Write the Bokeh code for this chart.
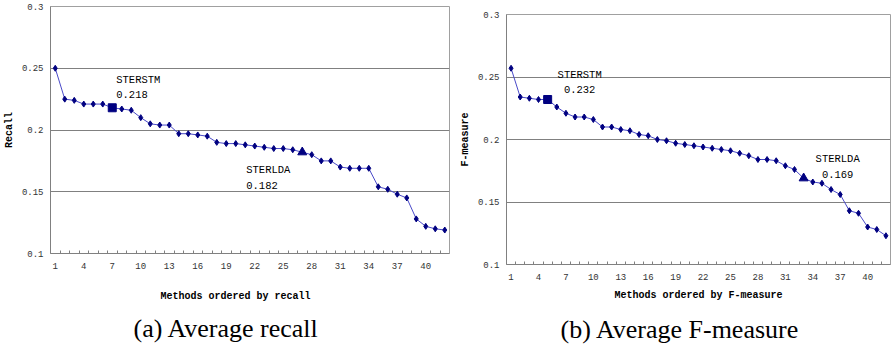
from bokeh.plotting import figure
from bokeh.layouts import row, column
from bokeh.models import Range1d, FixedTicker, Title
from bokeh.embed import file_html
from bokeh.resources import INLINE
from bokeh.core.properties import value

# ---------------- data ----------------
methods = list(range(1, 43))
recall = [0.250, 0.225, 0.224, 0.221, 0.221, 0.221, 0.218, 0.217, 0.216, 0.210,
          0.205, 0.204, 0.204, 0.197, 0.197, 0.196, 0.195, 0.190, 0.189, 0.189,
          0.188, 0.187, 0.186, 0.185, 0.185, 0.184, 0.182, 0.180, 0.175, 0.175,
          0.170, 0.169, 0.169, 0.169, 0.154, 0.152, 0.148, 0.145, 0.128, 0.122,
          0.120, 0.119]
fmeasure = [0.257, 0.234, 0.233, 0.232, 0.232, 0.226, 0.221, 0.218, 0.218, 0.216,
            0.210, 0.210, 0.208, 0.207, 0.204, 0.203, 0.200, 0.199, 0.197, 0.196,
            0.195, 0.194, 0.193, 0.192, 0.191, 0.189, 0.187, 0.184, 0.184, 0.183,
            0.179, 0.176, 0.169, 0.166, 0.165, 0.160, 0.156, 0.143, 0.141, 0.130,
            0.128, 0.123]
recall_sterstm_rank = 7
recall_sterlda_rank = 27
fmeasure_sterstm_rank = 5
fmeasure_sterlda_rank = 33
x_ticks = [1, 4, 7, 10, 13, 16, 19, 22, 25, 28, 31, 34, 37, 40]
y_ticks = [0.1, 0.15, 0.2, 0.25, 0.3]
y_tick_labels = ["0.1", "0.15", "0.2", "0.25", "0.3"]

MONO = "Liberation Mono"
SERIF = "Liberation Serif"
NAVY = "#000080"
LINE = "#4a4ac8"
GRID = "#808080"


def make_panel(vals, ylab, xlab, caption, r_stm, r_lda, fw, fh, mbl, mbr, mbt,
               stm_cfg, lda_cfg, xlab_off, cap_off, xlab_standoff, cap_standoff):
    p = figure(frame_width=fw, frame_height=fh, output_backend="svg",
               toolbar_location=None,
               x_range=Range1d(0.5, len(vals) + 0.5), y_range=Range1d(0.1, 0.3),
               min_border_left=mbl, min_border_right=mbr, min_border_top=mbt,
               min_border_bottom=0)
    p.outline_line_color = "#a0a0a0"
    p.background_fill_color = "white"
    p.border_fill_color = "white"
    p.xgrid.visible = False
    p.ygrid.ticker = FixedTicker(ticks=y_ticks)
    p.ygrid.grid_line_color = GRID
    p.ygrid.grid_line_width = 1

    # x axis
    xa = p.xaxis[0]
    xa.ticker = FixedTicker(ticks=x_ticks,
                            minor_ticks=[m + 0.5 for m in methods[:-1]])
    xa.major_tick_in = 0
    xa.major_tick_out = 0
    xa.minor_tick_in = 3
    xa.minor_tick_out = 0
    xa.minor_tick_line_color = GRID
    xa.axis_line_color = GRID
    xa.major_label_standoff = 9
    xa.major_label_text_font = MONO
    xa.major_label_text_font_size = "9px"
    xa.major_label_text_color = "#333333"

    # y axis
    ya = p.yaxis[0]
    ya.ticker = FixedTicker(ticks=y_ticks)
    ya.major_label_overrides = dict(zip(y_ticks, y_tick_labels))
    ya.major_tick_in = 0
    ya.major_tick_out = 0
    ya.minor_tick_in = 0
    ya.minor_tick_out = 0
    ya.axis_line_color = GRID
    ya.major_label_standoff = 7
    ya.major_label_text_font = MONO
    ya.major_label_text_font_size = "9px"
    ya.major_label_text_color = "#333333"
    ya.axis_label = ylab
    ya.axis_label_text_font = MONO
    ya.axis_label_text_font_size = "10px"
    ya.axis_label_text_font_style = "bold"
    ya.axis_label_text_color = "black"
    ya.axis_label_standoff = 4

    p.add_layout(Title(text=xlab, align="left", offset=xlab_off, standoff=xlab_standoff,
                       text_font=MONO, text_font_size="10px", text_font_style="bold",
                       text_color="black"), "below")
    p.add_layout(Title(text=caption, align="left", offset=cap_off, standoff=cap_standoff,
                       text_font=SERIF, text_font_size="26px", text_font_style="normal",
                       text_color="black"), "below")

    # series
    p.line(methods, vals, line_color=LINE, line_width=1)
    others = [m for m in methods if m not in (r_stm, r_lda)]
    p.scatter([m for m in others], [vals[m - 1] for m in others], marker="diamond",
              size=6, color=NAVY)
    p.scatter([r_stm], [vals[r_stm - 1]], marker="square", size=8, color=NAVY)
    p.scatter([r_lda], [vals[r_lda - 1]], marker="triangle", size=9, color=NAVY)

    for rank, name, cfg in ((r_stm, "STERSTM", stm_cfg), (r_lda, "STERLDA", lda_cfg)):
        dx, dy1, dy2, align = cfg
        v = vals[rank - 1]
        p.text([rank], [v], text=[name], x_offset=dx, y_offset=dy1, text_align=align,
               text_baseline="middle", text_font=value(MONO), text_font_size="10.5px",
               text_color="black")
        p.text([rank], [v], text=["%.3f" % v], x_offset=dx, y_offset=dy2,
               text_align=align, text_baseline="middle", text_font=value(MONO),
               text_font_size="10.5px", text_color="black")
    return p


pa = make_panel(recall, "Recall", "\nMethods ordered by recall", "(a) Average recall",
                recall_sterstm_rank, recall_sterlda_rank,
                fw=399, fh=247, mbl=41, mbr=7, mbt=6,
                stm_cfg=(4, -28, -13, "left"), lda_cfg=(-56, 18, 33, "left"),
                xlab_off=110, cap_off=83, xlab_standoff=12, cap_standoff=8)
pb = make_panel(fmeasure, "F-measure", "Methods ordered by F-measure",
                "(b) Average F-measure",
                fmeasure_sterstm_rank, fmeasure_sterlda_rank,
                fw=384, fh=250, mbl=47, mbr=1, mbt=14,
                stm_cfg=(32, -25, -10, "center"), lda_cfg=(34, -19, -4, "center"),
                xlab_off=108, cap_off=54, xlab_standoff=10, cap_standoff=14)

layout = row(column(pa), column(pb))
open("out.html", "w").write(file_html(layout, INLINE))
